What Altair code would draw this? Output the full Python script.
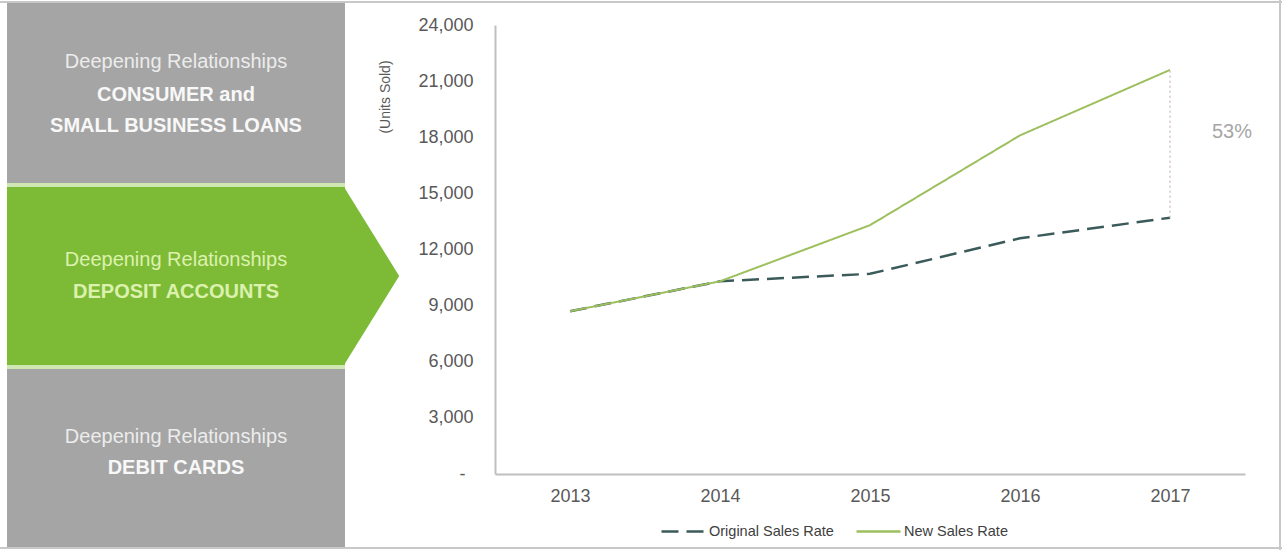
import altair as alt
import pandas as pd

# ---------------- data ----------------
years = ["2013", "2014", "2015", "2016", "2017"]
original_sales = [8700, 10300, 10700, 12600, 13700]
new_sales = [8700, 10300, 13300, 18100, 21600]
series_names = ["Original Sales Rate", "New Sales Rate"]
y_ticks = [0, 3000, 6000, 9000, 12000, 15000, 18000, 21000, 24000]
gap_label = "53%"
y_title = "(Units Sold)"
panel_kicker = "Deepening Relationships"
panel_top_lines = ["CONSUMER and", "SMALL BUSINESS LOANS"]
panel_mid_lines = ["DEPOSIT ACCOUNTS"]
panel_bot_lines = ["DEBIT CARDS"]

# ---------------- styles ----------------
GRAY_BOX = "#a5a5a5"
GREEN_BOX = "#7dbb37"
SEP = "#cfe7b2"
GREEN_TXT = "#dcf1ad"
KICK_TXT = "#ececec"
BOLD_TXT = "#f8f8f8"
AXIS_TXT = "#595959"
C_ORIG = "#3b5a5a"
C_NEW = "#9dbf5e"

rows = []
for s, vals in zip(series_names, [original_sales, new_sales]):
    for yr, v in zip(years, vals):
        rows.append({"year": yr, "series": s, "value": v})
df = pd.DataFrame(rows)

one = pd.DataFrame({"k": [0]})


def box(x1, x2, y1, y2, color):
    return alt.Chart(one).mark_rect(color=color).encode(
        x=alt.value(x1), x2=alt.value(x2), y=alt.value(y1), y2=alt.value(y2))


def label(txt, x, y, size, color, weight="normal", font="Liberation Sans", angle=None):
    kw = dict(text=txt, fontSize=size, color=color, fontWeight=weight, font=font,
              align="center", baseline="middle")
    if angle is not None:
        kw["angle"] = angle
    return alt.Chart(one).mark_text(**kw).encode(x=alt.value(x), y=alt.value(y))


# left navigation panel
cx = 176
panels = [
    box(7, 345, 3, 183, GRAY_BOX),
    box(7, 345, 183, 187, SEP),
    box(7, 345, 187, 365, GREEN_BOX),
    box(7, 345, 365, 369, SEP),
    box(7, 345, 369, 548, GRAY_BOX),
    alt.Chart(one).mark_point(shape="M0,-1L0.62,0L0,1Z", size=178 * 178, filled=True,
                              opacity=1, color=GREEN_BOX, strokeWidth=0).encode(
        x=alt.value(344), y=alt.value(276)),
    label(panel_kicker, cx, 62, 20, KICK_TXT),
    label(panel_top_lines[0], cx, 95, 20, BOLD_TXT, "bold"),
    label(panel_top_lines[1], cx, 126, 20, BOLD_TXT, "bold"),
    label(panel_kicker, cx, 260, 20, GREEN_TXT),
    label(panel_mid_lines[0], cx, 292, 20, GREEN_TXT, "bold"),
    label(panel_kicker, cx, 437, 20, KICK_TXT),
    label(panel_bot_lines[0], cx, 468, 20, BOLD_TXT, "bold"),
]

# frame lines
frame = [
    alt.Chart(one).mark_rule(color="#c8c8c8", strokeWidth=2).encode(
        x=alt.value(0), x2=alt.value(1282), y=alt.value(2)),
    alt.Chart(one).mark_rule(color="#c8c8c8", strokeWidth=2).encode(
        x=alt.value(0), x2=alt.value(1282), y=alt.value(548)),
    alt.Chart(one).mark_rule(color="#c8c8c8", strokeWidth=2).encode(
        x=alt.value(1280), y=alt.value(0), y2=alt.value(550)),
]

color_scale = alt.Scale(domain=series_names, range=[C_ORIG, C_NEW])
dash_scale = alt.Scale(domain=series_names, range=[[17, 8], [1, 0]])
legend = alt.Legend(orient="none", legendX=660, legendY=508, direction="horizontal",
                    title=None, symbolType="stroke", symbolSize=1936, symbolStrokeWidth=2.5,
                    labelFont="Liberation Sans", labelFontSize=14.5, labelColor="#404040",
                    columnPadding=17, labelOffset=2, padding=0)

x_scale = alt.Scale(type="point", range=[495, 1245], padding=0.5)
x_enc = alt.X("year:N", title=None, scale=x_scale,
              axis=alt.Axis(offset=-76, domainColor="#bfbfbf", domainWidth=2, ticks=False,
                            tickSize=0, labelPadding=13, labelAngle=0, grid=False,
                            labelFont="Liberation Sans", labelFontSize=18, labelColor=AXIS_TXT))
y_enc = alt.Y("value:Q", title=None,
              scale=alt.Scale(domain=[0, 24000], range=[474, 25], nice=False, zero=True),
              axis=alt.Axis(offset=-495, values=y_ticks, domainColor="#bfbfbf", domainWidth=2,
                            ticks=False, tickSize=0, grid=False,
                            labelPadding={"condition": {"test": "datum.value === 0", "value": 30},
                                          "value": 22},
                            labelFont="Liberation Sans", labelFontSize=18, labelColor=AXIS_TXT,
                            labelExpr="datum.value === 0 ? '-' : format(datum.value, ',')"))

base = alt.Chart(df).encode(
    x=x_enc, y=y_enc,
    color=alt.Color("series:N", scale=color_scale, legend=legend),
    strokeDash=alt.StrokeDash("series:N", scale=dash_scale, legend=legend),
)
line_orig = base.transform_filter(alt.datum.series == series_names[0]).mark_line(strokeWidth=2.5)
line_new = base.transform_filter(alt.datum.series == series_names[1]).mark_line(strokeWidth=2)

gap_df = pd.DataFrame({"year": [years[-1]], "lo": [original_sales[-1]], "hi": [new_sales[-1]]})
gap_rule = alt.Chart(gap_df).mark_rule(color="#c7b5bf", strokeWidth=1.2, strokeDash=[2, 3]).encode(
    x=alt.X("year:N", title=None, scale=x_scale), y=alt.Y("lo:Q", title=None), y2="hi:Q")

annotations = [
    label(gap_label, 1232, 132, 20, "#a6a6a6"),
    label(y_title, 386, 97, 14, AXIS_TXT, angle=270),
]

chart = alt.layer(
    *panels, *frame, line_orig, line_new, gap_rule, *annotations
).properties(
    width=1282, height=550, padding=0,
    autosize=alt.AutoSizeParams(type="none"),
    background="white",
).configure_view(stroke=None)

chart.save("out.html", embed_options={"renderer": "svg", "actions": False})
